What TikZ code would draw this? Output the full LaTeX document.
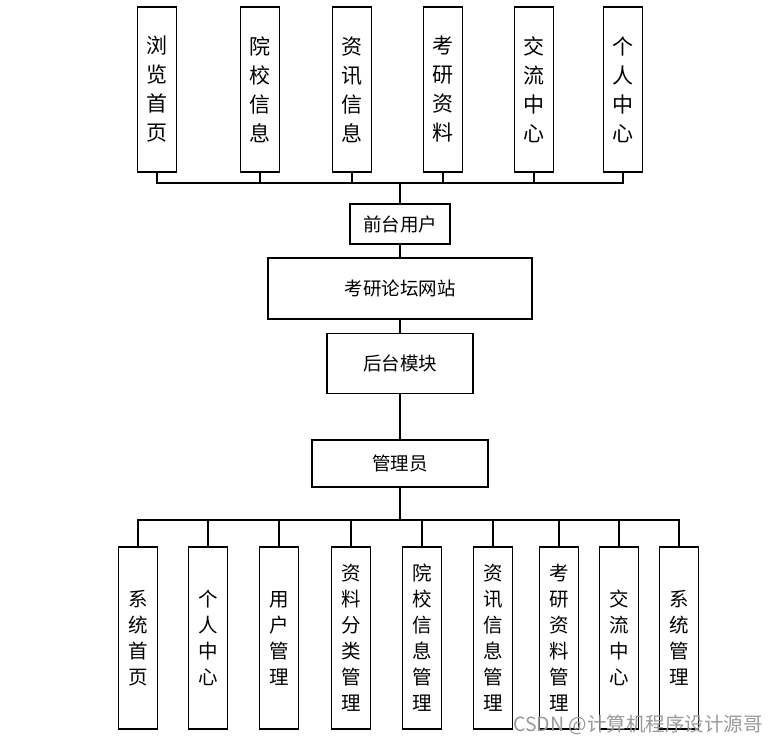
\documentclass[tikz,border=0pt]{standalone}
\usepackage{fontspec}
\setmainfont{Noto Sans CJK SC}
\tikzset{
  vbox/.style={draw, line width=1.2pt, minimum width=39pt, align=center, inner sep=0pt},
  topbox/.style={vbox, minimum height=165pt, font=\fontsize{21}{29}\selectfont},
  botbox/.style={vbox, minimum height=182pt, font=\fontsize{19.5}{26}\selectfont},
  hbox/.style={draw, line width=1.2pt, font=\fontsize{18.5}{20}\selectfont},
  link/.style={line width=1.2pt}
}
\begin{document}
\begin{tikzpicture}[x=1pt, y=-1pt]
    \useasboundingbox (0, 0) rectangle (778, 745);

    % Front-end user modules
    \node[topbox] (u1) at (157, 89.5) {浏\\览\\首\\页};
    \node[topbox] (u2) at (260, 89.5) {院\\校\\信\\息};
    \node[topbox] (u3) at (352, 89.5) {资\\讯\\信\\息};
    \node[topbox] (u4) at (443, 89.5) {考\\研\\资\\料};
    \node[topbox] (u5) at (534, 89.5) {交\\流\\中\\心};
    \node[topbox] (u6) at (623, 89.5) {个\\人\\中\\心};
    \coordinate (topbus) at (400, 183);

    % Central chain
    \node[hbox, minimum width=100pt, minimum height=40pt] (front) at (400, 224) {前台用户};
    \node[hbox, minimum width=264pt, minimum height=61pt] (site) at (400, 288.5) {考研论坛网站};
    \node[hbox, minimum width=146pt, minimum height=60pt] (back) at (400, 363.5) {后台模块};
    \node[hbox, minimum width=176pt, minimum height=47pt] (admin) at (400, 463.5) {管理员};
    \coordinate (botbus) at (400, 520);

    % Administrator modules
    \node[botbox] (a1) at (138, 638) {系\\统\\首\\页};
    \node[botbox] (a2) at (208, 638) {个\\人\\中\\心};
    \node[botbox] (a3) at (279, 638) {用\\户\\管\\理};
    \node[botbox] (a4) at (351, 638) {资\\料\\分\\类\\管\\理};
    \node[botbox] (a5) at (422, 638) {院\\校\\信\\息\\管\\理};
    \node[botbox] (a6) at (493, 638) {资\\讯\\信\\息\\管\\理};
    \node[botbox] (a7) at (559, 638) {考\\研\\资\\料\\管\\理};
    \node[botbox] (a8) at (619, 638) {交\\流\\中\\心};
    \node[botbox] (a9) at (679, 638) {系\\统\\管\\理};

    % Connectors
    \foreach \n in {u1, u2, u3, u4, u5, u6}
        \draw[link] (\n.south) |- (topbus);
    \draw[link] (topbus) -- (front.north);
    \draw[link] (front.south) -- (site.north);
    \draw[link] (site.south) -- (back.north);
    \draw[link] (back.south) -- (admin.north);
    \draw[link] (admin.south) -- (botbus);
    \foreach \n in {a1, a2, a3, a4, a5, a6, a7, a8, a9}
        \draw[link] (botbus) -| (\n.north);

    % Watermark
    \node[text=black!40, font=\fontsize{19.5}{21}\selectfont, anchor=east, inner sep=0pt] (mark) at (763, 725) {CSDN @计算机程序设计源哥};
\end{tikzpicture}
\end{document}
